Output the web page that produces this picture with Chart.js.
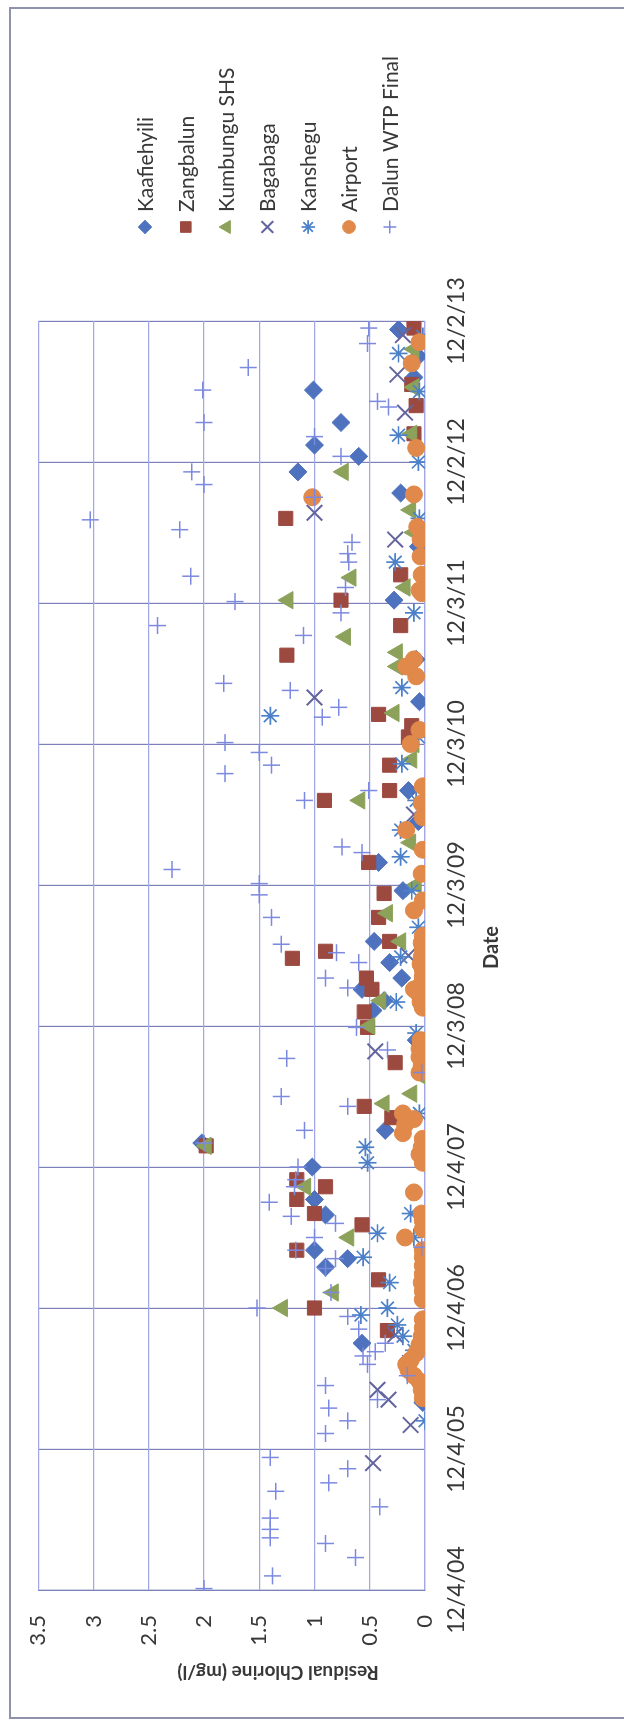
<!DOCTYPE html>
<html>
<head>
<meta charset="utf-8">
<title>Residual Chlorine</title>
<script src="https://cdn.jsdelivr.net/npm/chart.js@4.4.1/dist/chart.umd.min.js"></script>
<style>
  html, body { margin: 0; padding: 0; background: #fff; }
  body { width: 624px; height: 1720px; overflow: hidden; position: relative; }
  /* chart is laid out landscape, then turned a quarter to the left */
  #wrap {
    position: absolute; left: 0; top: 0;
    width: 1720px; height: 624px;
    transform-origin: 0 0;
    transform: translate(0px, 1720px) rotate(-90deg);
  }
</style>
</head>
<body>
<div id="wrap"><canvas id="chart" width="1720" height="624"></canvas></div>
<script>
// x = years after the first date tick (12/4/04), y = residual chlorine (mg/l)
const dateLabels = ['12/4/04', '12/4/05', '12/4/06', '12/4/07', '12/3/08',
                    '12/3/09', '12/3/10', '12/3/11', '12/2/12', '12/2/13'];
const valueLabels = ['0', '0.5', '1', '1.5', '2', '2.5', '3', '3.5'];

const seriesNames = ['Kaafiehyili', 'Zangbalun', 'Kumbungu SHS', 'Bagabaga',
                     'Kanshegu', 'Airport', 'Dalun WTP Final'];

const kaafiehyili = [
  [1.33, 0.02], [1.75, 0.57], [2.29, 0.90], [2.35, 0.70], [2.41, 1.00], [2.66, 0.90],
  [2.77, 1.00], [3.00, 1.02], [3.17, 2.02], [3.26, 0.36], [3.90, 0.08], [4.11, 0.47],
  [4.18, 0.37], [4.26, 0.57], [4.34, 0.21], [4.45, 0.32], [4.60, 0.46], [4.96, 0.20],
  [5.16, 0.42], [5.45, 0.06], [5.67, 0.15], [6.30, 0.05], [6.60, 0.08], [7.02, 0.28],
  [7.40, 0.06], [7.78, 0.22], [7.93, 1.15], [8.04, 0.60], [8.12, 1.00], [8.28, 0.76],
  [8.51, 1.01], [8.60, 0.10], [8.75, 0.06], [8.94, 0.24]
];
const zangbalun = [
  [1.84, 0.34], [2.00, 1.00], [2.20, 0.42], [2.41, 1.16], [2.59, 0.57], [2.67, 1.00],
  [2.77, 1.16], [2.86, 0.90], [2.91, 1.16], [3.15, 1.98], [3.35, 0.30], [3.43, 0.55],
  [3.74, 0.27], [3.99, 0.52], [4.10, 0.55], [4.26, 0.48], [4.34, 0.53], [4.48, 1.20],
  [4.53, 0.90], [4.60, 0.32], [4.77, 0.42], [4.94, 0.37], [5.16, 0.51], [5.60, 0.91],
  [5.67, 0.32], [5.85, 0.32], [6.05, 0.15], [6.13, 0.12], [6.21, 0.42], [6.63, 1.25],
  [6.84, 0.22], [7.02, 0.76], [7.20, 0.22], [7.60, 1.26], [8.20, 0.10], [8.40, 0.08],
  [8.55, 0.12], [8.95, 0.10]
];
const kumbungu = [
  [2.00, 1.29], [2.11, 0.83], [2.50, 0.69], [2.86, 1.08], [3.15, 1.98], [3.45, 0.37],
  [3.52, 0.12], [3.64, 0.02], [4.00, 0.50], [4.18, 0.40], [4.60, 0.22], [4.80, 0.34],
  [5.00, 0.08], [5.30, 0.13], [5.60, 0.59], [5.89, 0.12], [6.00, 0.10], [6.22, 0.28],
  [6.55, 0.25], [6.65, 0.25], [6.76, 0.72], [7.02, 1.24], [7.11, 0.18], [7.18, 0.67],
  [7.50, 0.10], [7.66, 0.13], [7.93, 0.74], [8.20, 0.12], [8.53, 0.10], [8.80, 0.10]
];
const bagabaga = [
  [0.90, 0.47], [1.17, 0.13], [1.35, 0.33], [1.42, 0.43], [1.81, 0.27], [3.82, 0.45],
  [4.50, 0.15], [5.50, 0.10], [6.33, 1.00], [7.45, 0.27], [7.64, 1.00], [8.35, 0.18],
  [8.62, 0.25], [8.90, 0.20]
];
const kanshegu = [
  [1.20, 0.00], [1.62, 0.15], [1.70, 0.10], [1.80, 0.20], [1.88, 0.25], [1.95, 0.58],
  [2.00, 0.34], [2.18, 0.32], [2.36, 0.56], [2.50, 0.10], [2.53, 0.43], [2.67, 0.13],
  [3.03, 0.52], [3.14, 0.54], [3.38, 0.05], [3.95, 0.08], [4.17, 0.26], [4.49, 0.22],
  [4.70, 0.06], [4.96, 0.12], [5.20, 0.22], [5.39, 0.22], [5.60, 0.08], [5.86, 0.21],
  [6.05, 0.06], [6.20, 1.40], [6.40, 0.21], [6.93, 0.10], [7.29, 0.27], [7.60, 0.05],
  [8.00, 0.06], [8.19, 0.24], [8.50, 0.05], [8.77, 0.24], [8.89, 0.02]
];
const airport = [
  [1.36, 0.02], [1.42, 0.03], [1.48, 0.05], [1.52, 0.10], [1.56, 0.15], [1.60, 0.17],
  [1.63, 0.13], [1.68, 0.08], [1.74, 0.05], [1.80, 0.03], [1.86, 0.02], [1.92, 0.02],
  [2.06, 0.02], [2.12, 0.02], [2.18, 0.03], [2.24, 0.02], [2.30, 0.02], [2.36, 0.02],
  [2.41, 0.02], [2.50, 0.18], [2.56, 0.02], [2.62, 0.02], [2.67, 0.03], [2.82, 0.10],
  [3.03, 0.02], [3.09, 0.05], [3.14, 0.03], [3.20, 0.02], [3.24, 0.20], [3.30, 0.18],
  [3.34, 0.10], [3.38, 0.20], [3.67, 0.05], [3.72, 0.03], [3.78, 0.05], [3.84, 0.05],
  [3.90, 0.04], [4.13, 0.02], [4.17, 0.04], [4.22, 0.05], [4.26, 0.10], [4.30, 0.03],
  [4.35, 0.02], [4.40, 0.02], [4.44, 0.04], [4.49, 0.03], [4.55, 0.02], [4.59, 0.03],
  [4.64, 0.02], [4.82, 0.10], [4.89, 0.02], [5.08, 0.03], [5.25, 0.02], [5.39, 0.17],
  [5.48, 0.02], [5.58, 0.03], [5.70, 0.02], [6.00, 0.13], [6.10, 0.05], [6.48, 0.08],
  [6.55, 0.17], [6.60, 0.10], [7.07, 0.03], [7.09, 0.05], [7.20, 0.03], [7.33, 0.04],
  [7.45, 0.04], [7.54, 0.07], [7.75, 1.02], [7.77, 0.10], [8.10, 0.08], [8.70, 0.12],
  [8.85, 0.05]
];
const dalunWtp = [
  [0.01, 2.00], [0.10, 1.38], [0.23, 0.63], [0.33, 0.90], [0.37, 1.40], [0.43, 1.40],
  [0.51, 1.40], [0.59, 0.41], [0.70, 1.35], [0.76, 0.87], [0.86, 0.70], [0.94, 1.40],
  [1.11, 0.90], [1.20, 0.70], [1.29, 0.87], [1.35, 0.43], [1.45, 0.90], [1.52, 0.16],
  [1.60, 0.52], [1.66, 0.56], [1.69, 0.45], [1.75, 0.36], [1.85, 0.60], [1.94, 0.70],
  [2.00, 1.52], [2.11, 0.85], [2.28, 0.90], [2.35, 0.81], [2.41, 1.17], [2.43, 0.03],
  [2.50, 1.00], [2.60, 0.81], [2.65, 1.21], [2.75, 1.41], [2.86, 1.18], [2.91, 1.17],
  [3.00, 1.15], [3.17, 2.00], [3.26, 1.09], [3.43, 0.70], [3.50, 1.30], [3.67, 0.03],
  [3.77, 1.25], [3.83, 0.34], [3.99, 0.62], [4.27, 0.70], [4.34, 0.90], [4.45, 0.60],
  [4.52, 0.80], [4.58, 1.30], [4.77, 1.39], [4.93, 1.50], [5.01, 1.50], [5.11, 2.29],
  [5.23, 0.57], [5.27, 0.75], [5.60, 1.09], [5.67, 0.51], [5.79, 1.81], [5.85, 1.39],
  [5.94, 1.50], [6.01, 1.81], [6.19, 0.93], [6.26, 0.78], [6.38, 1.22], [6.43, 1.82],
  [6.77, 1.10], [6.84, 2.42], [6.93, 0.76], [7.01, 1.72], [7.11, 0.72], [7.19, 2.12],
  [7.29, 0.69], [7.35, 0.70], [7.43, 0.66], [7.52, 2.22], [7.59, 3.03], [7.75, 1.00],
  [7.84, 2.00], [7.93, 2.11], [8.04, 0.76], [8.18, 1.00], [8.28, 2.00], [8.39, 0.33],
  [8.43, 0.43], [8.51, 2.01], [8.67, 1.60], [8.84, 0.52], [8.95, 0.51]
];

const FONT = 'Lato, "Open Sans", sans-serif';
const TEXT = '#383838';
const dateGrid = '#7D81BA';
const valueGrid = '#A2A8E6';

// marker look per series (Excel default-ish markers)
const markers = [
  { style: 'rectRot',  color: '#4E72BE', r: 9,   bw: 1 },
  { style: 'rect',     color: '#9C4A40', r: 10,  bw: 1 },
  { style: 'triangle', color: '#8CA25A', r: 10,  bw: 1 },
  { style: 'crossRot', color: '#64659E', r: 11,  bw: 2 },
  { style: 'star',     color: '#4C80C8', r: 9,   bw: 1.7 },
  { style: 'circle',   color: '#E0894A', r: 8.5, bw: 1 },
  { style: 'cross',    color: '#7C89E0', r: 8.5, bw: 1.5 }
];
const seriesData = [kaafiehyili, zangbalun, kumbungu, bagabaga, kanshegu, airport, dalunWtp];

const datasets = seriesData.map((pts, i) => ({
  label: seriesNames[i],
  data: pts.map(p => ({ x: p[0], y: p[1] })),
  pointStyle: markers[i].style,
  pointRadius: markers[i].r,
  pointBackgroundColor: markers[i].color,
  pointBorderColor: markers[i].color,
  pointBorderWidth: markers[i].bw,
  order: seriesNames.length - i   // later series on top, like Excel
}));

const decor = {
  id: 'decor',
  beforeDraw(chart) {
    const ctx = chart.ctx;
    ctx.save();
    ctx.fillStyle = '#fff';
    ctx.fillRect(0, 0, chart.width, chart.height);
    // outer frame
    ctx.strokeStyle = '#8E92AA';
    ctx.lineWidth = 2;
    ctx.beginPath();
    ctx.moveTo(2, 640); ctx.lineTo(2, 10); ctx.lineTo(1712, 10); ctx.lineTo(1712, 640);
    ctx.stroke();
    ctx.restore();
  },
  afterDraw(chart) {
    const ctx = chart.ctx;
    const area = chart.chartArea;
    ctx.save();
    ctx.fillStyle = TEXT;
    // axis titles
    ctx.font = 'bold 20px ' + FONT;
    ctx.textAlign = 'center';
    ctx.textBaseline = 'middle';
    ctx.fillText('Date', (area.left + area.right) / 2 + 8, 492);
    ctx.save();
    ctx.translate(48, 278);
    ctx.rotate(-Math.PI / 2);
    ctx.font = 'bold 19px ' + FONT;
    ctx.fillText('Residual Chlorine (mg/l)', 0, 0);
    ctx.restore();

    // legend
    ctx.font = '21px ' + FONT;
    ctx.textAlign = 'left';
    chart.data.datasets.forEach((ds, i) => {
      const y = 145 + i * 40.8;
      const m = markers[i];
      ctx.fillStyle = m.color;
      ctx.strokeStyle = m.color;
      const opts = { pointStyle: m.style, radius: m.r * 0.75, rotation: 0, borderWidth: m.bw };
      ctx.lineWidth = m.bw;
      Chart.helpers.drawPoint(ctx, opts, 1493, y);
      ctx.fillStyle = TEXT;
      ctx.fillText(ds.label, 1508, y + 1);
    });
    ctx.restore();
  }
};

new Chart(document.getElementById('chart'), {
  type: 'scatter',
  data: { datasets },
  options: {
    responsive: false,
    animation: false,
    layout: { padding: { top: 36, right: 321, left: 0, bottom: 0 } },
    plugins: { legend: { display: false }, tooltip: { enabled: false } },
    scales: {
      x: {
        type: 'linear', min: 0, max: 9,
        grid: { color: dateGrid, lineWidth: 1.2, drawTicks: false },
        border: { color: valueGrid, width: 1.2 },
        ticks: {
          stepSize: 1, autoSkip: false, maxRotation: 0, padding: 18,
          color: TEXT, font: { family: FONT, size: 23 },
          callback: v => dateLabels[Math.round(v)] ?? ''
        },
        afterFit: s => { s.height = 199; }
      },
      y: {
        min: 0, max: 3.5,
        grid: { color: valueGrid, lineWidth: 1.2, drawTicks: false },
        border: { color: dateGrid, width: 1.2 },
        ticks: {
          stepSize: 0.5, padding: 25,
          color: TEXT, font: { family: FONT, size: 22 },
          callback: (v, i) => valueLabels[i]
        },
        afterFit: s => { s.width = 130; }
      }
    }
  },
  plugins: [decor]
});
</script>
</body>
</html>
